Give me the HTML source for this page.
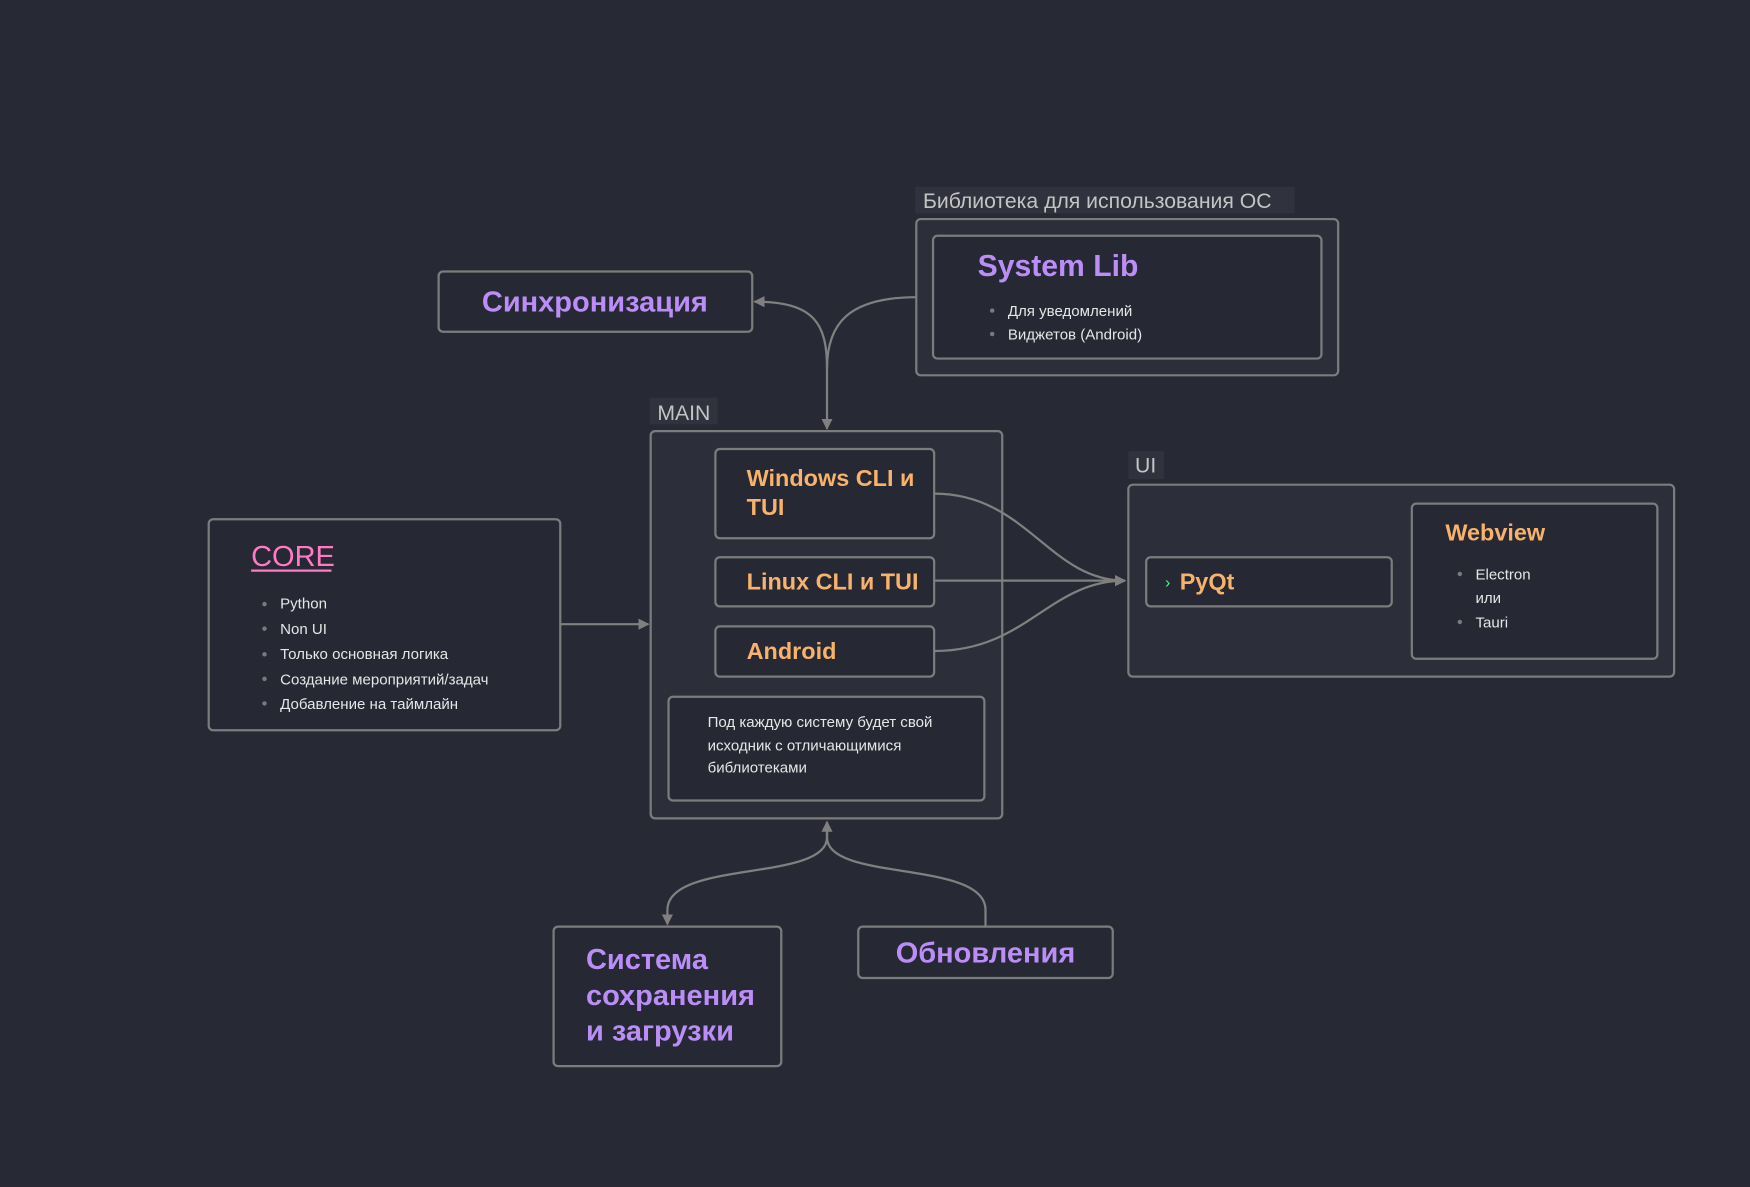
<!DOCTYPE html>
<html><head><meta charset="utf-8"><style>
html,body{margin:0;padding:0;background:#272935;}
svg{display:block;}
text{font-family:"Liberation Sans","DejaVu Sans",sans-serif;}
</style></head><body>
<svg width="1750" height="1187" viewBox="0 0 1568 1063" xmlns="http://www.w3.org/2000/svg">
<defs>
<marker id="a" viewBox="0 0 10 10" refX="9" refY="5" markerWidth="5" markerHeight="5" orient="auto-start-reverse"><path d="M0,0L10,5L0,10z" fill="#808080"/></marker>
</defs>
<rect width="1568" height="1063" fill="#272935"/>
<g fill="none" stroke="#7c7c7c" stroke-width="2">
<rect x="820" y="167" width="340" height="24" fill="#30323d" stroke="none"/>
<rect x="582" y="356" width="61" height="24" fill="#30323d" stroke="none"/>
<rect x="1011" y="404" width="32" height="25" fill="#30323d" stroke="none"/>
<rect x="393" y="243" width="281" height="54" rx="4" fill="#262834"/>
<rect x="821" y="196" width="378" height="140" rx="4" fill="#2c2e3a"/>
<rect x="836" y="211" width="348" height="110" rx="4" fill="#262834"/>
<rect x="583" y="386" width="315" height="347" rx="4" fill="#2c2e3a"/>
<rect x="641" y="402" width="196" height="80" rx="4" fill="#262834"/>
<rect x="641" y="499" width="196" height="44" rx="4" fill="#262834"/>
<rect x="641" y="561" width="196" height="45" rx="4" fill="#262834"/>
<rect x="599" y="624" width="283" height="93" rx="4" fill="#262834"/>
<rect x="187" y="465" width="315" height="189" rx="4" fill="#262834"/>
<rect x="1011" y="434" width="489" height="172" rx="4" fill="#2c2e3a"/>
<rect x="1027" y="499" width="220" height="44" rx="4" fill="#262834"/>
<rect x="1265" y="451" width="220" height="139" rx="4" fill="#262834"/>
<rect x="496" y="830" width="204" height="125" rx="4" fill="#262834"/>
<rect x="769" y="830" width="228" height="46" rx="4" fill="#262834"/>
</g>
<g fill="none" stroke="#808080" stroke-width="2">
<path d="M502,559 L581,559" marker-end="url(#a)"/>
<path d="M821,266 C760,266 741,290 741,330 L741,384" marker-end="url(#a)"/>
<path d="M741,330 C741,290 730,270 676,270" marker-end="url(#a)"/>
<path d="M837,442 C920,442 940,520 1008,520" marker-end="url(#a)"/>
<path d="M837,520 L1008,520" marker-end="url(#a)"/>
<path d="M837,583 C920,583 940,520 1008,520" marker-end="url(#a)"/>
<path d="M741,736 L741,750 C741,790 598,770 598,815 L598,828" marker-start="url(#a)" marker-end="url(#a)"/>
<path d="M883,830 L883,815 C883,770 741,790 741,750 L741,740"/>
</g>
<g font-size="19" fill="#c4c4c4">
<text x="827" y="186">Библиотека для использования ОС</text>
<text x="589" y="376">MAIN</text>
<text x="1017" y="423">UI</text>
</g>
<g font-weight="bold" fill="#bb8ef7" font-size="26">
<text x="533" y="279" text-anchor="middle">Синхронизация</text>
<text x="876" y="247" font-size="27">System Lib</text>
<text x="525" y="868">Система</text>
<text x="525" y="900">сохранения</text>
<text x="525" y="932">и загрузки</text>
<text x="883" y="862" text-anchor="middle">Обновления</text>
</g>
<g font-weight="bold" fill="#f7b26c" font-size="21">
<text x="669" y="435">Windows CLI и</text>
<text x="669" y="461">TUI</text>
<text x="669" y="528">Linux CLI и TUI</text>
<text x="669" y="590">Android</text>
<text x="1057" y="528">PyQt</text>
<text x="1295" y="484">Webview</text>
</g>
<text x="1044" y="526" fill="#50fa7b" font-size="14">›</text>
<text x="225" y="507" fill="#ff79c6" font-size="26">CORE</text>
<rect x="225" y="510" width="72" height="2" fill="#ff79c6"/>
<g font-size="13.5" fill="#e6e6e6">
<text x="903" y="283">Для уведомлений</text>
<text x="903" y="304">Виджетов (Android)</text>
<text x="634" y="651">Под каждую систему будет свой</text>
<text x="634" y="672">исходник с отличающимися</text>
<text x="634" y="692">библиотеками</text>
<text x="251" y="545">Python</text>
<text x="251" y="568">Non UI</text>
<text x="251" y="590">Только основная логика</text>
<text x="251" y="613">Создание мероприятий/задач</text>
<text x="251" y="635">Добавление на таймлайн</text>
<text x="1322" y="519">Electron</text>
<text x="1322" y="540">или</text>
<text x="1322" y="562">Tauri</text>
</g>
<g fill="#7a7a7a">
<circle cx="889" cy="278" r="2"/><circle cx="889" cy="299" r="2"/>
<circle cx="237" cy="541" r="2"/><circle cx="237" cy="563" r="2"/><circle cx="237" cy="586" r="2"/><circle cx="237" cy="608" r="2"/><circle cx="237" cy="630" r="2"/>
<circle cx="1308" cy="514" r="2"/><circle cx="1308" cy="557" r="2"/>
</g>
</svg>
</body></html>
